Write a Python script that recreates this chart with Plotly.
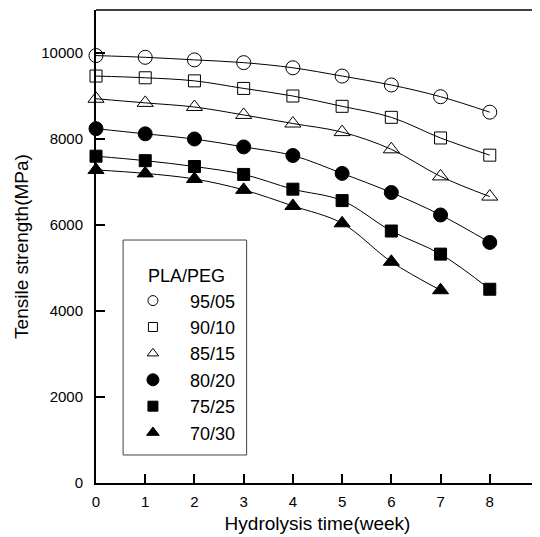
import plotly.graph_objects as go

weeks = [0, 1, 2, 3, 4, 5, 6, 7, 8]
weeks_7030 = [0, 1, 2, 3, 4, 5, 6, 7]

s_9505 = [9940, 9900, 9840, 9776, 9656, 9464, 9256, 8984, 8624]
s_9010 = [9464, 9424, 9352, 9176, 9000, 8760, 8504, 8024, 7624]
s_8515 = [8936, 8840, 8744, 8560, 8360, 8160, 7760, 7130, 6661]
s_8020 = [8240, 8120, 8000, 7816, 7616, 7200, 6755, 6233, 5595]
s_7525 = [7600, 7496, 7360, 7176, 6833, 6568, 5860, 5323, 4506]
s_7030 = [7280, 7200, 7070, 6817, 6443, 6039, 5144, 4483]

names = ["95/05", "90/10", "85/15", "80/20", "75/25", "70/30"]
symbols = ["circle-open", "square-open", "triangle-up-open", "circle", "square", "triangle-up"]
sizes = [14, 12, 14, 14, 12, 14]
legend_sizes = [10, 9, 10, 12, 10, 11]

xt = [0, 1, 2, 3, 4, 5, 6, 7, 8, 9]
yt = [0, 2000, 4000, 6000, 8000, 10000]

series = [(weeks, s_9505), (weeks, s_9010), (weeks, s_8515),
          (weeks, s_8020), (weeks, s_7525), (weeks_7030, s_7030)]

fig = go.Figure()
for (xs, ys), sym, sz in zip(series, symbols, sizes):
    fig.add_trace(go.Scatter(
        x=xs, y=ys, mode="lines+markers", showlegend=False,
        line=dict(color="black", width=1, shape="spline", smoothing=1.0),
        marker=dict(symbol=sym, size=sz, color="black",
                    line=dict(color="#333" if "open" in sym else "black", width=1)),
        cliponaxis=False))

for name, sym, sz in zip(names, symbols, legend_sizes):
    fig.add_trace(go.Scatter(
        x=[None], y=[None], mode="markers", name=name,
        marker=dict(symbol=sym, size=sz, color="black",
                    line=dict(color="#444" if "open" in sym else "black", width=1))))

font_family = "Liberation Sans, Arial, sans-serif"

# the page body adds an 8px offset; figure is sized so the plot lands where the reference has it
fig.update_layout(
    width=532, height=529,
    margin=dict(l=88, r=1, t=2, b=54, autoexpand=False),
    paper_bgcolor="white", plot_bgcolor="white",
    font=dict(family=font_family, color="black", size=15),
    xaxis=dict(range=[0, 9], tickvals=xt, ticktext=[str(v) for v in xt],
               ticks="inside", ticklen=9, tickwidth=2, tickcolor="black",
               showline=True, linewidth=2, linecolor="black", mirror=False,
               showgrid=False, zeroline=False, automargin=False,
               tickfont=dict(size=15), ticklabelstandoff=4,
               ticklabeloverflow="allow",
               title=dict(text="Hydrolysis time(week)", font=dict(size=19), standoff=8)),
    yaxis=dict(range=[0, 11000], tickvals=yt, ticktext=[str(v) for v in yt],
               ticks="inside", ticklen=9, tickwidth=1.5, tickcolor="black",
               showline=True, linewidth=2, linecolor="black", mirror=False,
               showgrid=False, zeroline=False, automargin=False,
               tickfont=dict(size=15), ticklabelstandoff=8,
               title=dict(text="Tensile strength(MPa)", font=dict(size=19), standoff=8)),
    legend=dict(x=0.045, y=0.4736, xanchor="left", yanchor="top",
                bgcolor="rgba(0,0,0,0)", borderwidth=0,
                font=dict(size=18, family=font_family),
                title=dict(text="&nbsp;&nbsp;&nbsp;&nbsp;&nbsp;&nbsp;PLA/PEG",
                           font=dict(size=18, family=font_family)),
                itemwidth=64, tracegroupgap=0),
    shapes=[
        dict(type="line", xref="paper", yref="paper", x0=0, x1=1, y0=1, y1=1,
             line=dict(color="black", width=1.5)),
        dict(type="line", xref="paper", yref="paper", x0=1, x1=1, y0=0, y1=1,
             line=dict(color="black", width=1.5)),
        dict(type="rect", xref="paper", yref="paper", x0=0.0612, x1=0.340,
             y0=0.0592, y1=0.5137, line=dict(color="#444", width=1)),
    ],
)

fig.write_html("out.html")
